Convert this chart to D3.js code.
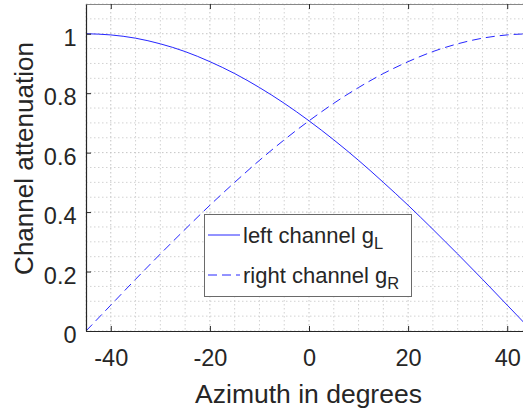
<!DOCTYPE html>
<html><head><meta charset="utf-8">
<script src="https://cdn.jsdelivr.net/npm/d3@7"></script>
<style>body{margin:0;background:#fff;} svg{display:block;} text{font-family:"Liberation Sans",Arial,sans-serif;fill:#262626;}</style>
</head><body>
<svg id="c" width="523" height="412"></svg>
<script>
const azimuth = [-45,-40,-35,-30,-25,-20,-15,-10,-5,0,5,10,15,20,25,30,35,40,45];
const leftGain = [1.000,0.996,0.985,0.966,0.940,0.906,0.866,0.819,0.766,0.707,0.643,0.574,0.500,0.423,0.342,0.259,0.174,0.087,0.000];
const rightGain = [0.000,0.087,0.174,0.259,0.342,0.423,0.500,0.574,0.643,0.707,0.766,0.819,0.866,0.906,0.940,0.966,0.985,0.996,1.000];
const xTicks = [-40,-20,0,20,40];
const yTicks = [0,0.2,0.4,0.6,0.8,1];
const yTickLabels = ["0","0.2","0.4","0.6","0.8","1"];
const seriesNames = ["left channel g", "right channel g"];
const seriesSubs = ["L","R"];

const svg = d3.select("#c");
const L = 86, R = 532, T = 4, B = 331;
const x = d3.scaleLinear().domain([-45,45]).range([L,R]);
const y = d3.scaleLinear().domain([0,1.1]).range([B,T]);

// grid
const g = svg.append("g");
const xMinor = d3.range(-45,46,5);
const yMinor = d3.range(0,1.1001,0.05);
g.selectAll(".vx").data(xMinor).join("line")
  .attr("x1",d=>x(d)).attr("x2",d=>x(d)).attr("y1",T).attr("y2",B)
  .attr("stroke",d=>xTicks.includes(d)?"#c4c4c4":"#d2d2d2").attr("stroke-width",1).attr("stroke-dasharray","1.5,2.5");
g.selectAll(".hy").data(yMinor).join("line")
  .attr("y1",d=>y(d)).attr("y2",d=>y(d)).attr("x1",L).attr("x2",R)
  .attr("stroke",d=>Math.abs(d*5-Math.round(d*5))<1e-6?"#c4c4c4":"#d2d2d2").attr("stroke-width",1).attr("stroke-dasharray","1.5,2.5");

// lines
const pts = (vals)=>azimuth.map((a,i)=>[a,vals[i]]);
const line = d3.line().x(d=>x(d[0])).y(d=>y(d[1])).curve(d3.curveMonotoneX);
svg.append("path").attr("d",line(pts(leftGain))).attr("fill","none").attr("stroke","#0000ff").attr("stroke-width",1).attr("stroke-opacity",0.85);
svg.append("path").attr("d",line(pts(rightGain))).attr("fill","none").attr("stroke","#0000ff").attr("stroke-width",1).attr("stroke-opacity",0.85).attr("stroke-dasharray","9,5");

// axes
const xAxis = svg.append("g").attr("transform",`translate(0,${B})`)
  .call(d3.axisBottom(x).tickValues(xTicks).tickSizeInner(-5).tickSizeOuter(0).tickFormat(d=>d<0?"-"+Math.abs(d):String(d)));
const xAxisTop = svg.append("g").attr("transform",`translate(0,${T})`)
  .call(d3.axisTop(x).tickValues(xTicks).tickSizeInner(-5).tickSizeOuter(0).tickFormat(""));
const yAxis = svg.append("g").attr("transform",`translate(${L},0)`)
  .call(d3.axisLeft(y).tickValues(yTicks).tickSizeInner(-5).tickSizeOuter(0).tickFormat((d,i)=>yTickLabels[i]));
[xAxis,xAxisTop,yAxis].forEach(a=>{
  a.select(".domain").attr("stroke","#262626").attr("stroke-width",1.2);
  a.selectAll(".tick line").attr("stroke","#262626");
  a.selectAll(".tick text").style("font-size","23.5px").attr("fill","#262626");
});
xAxis.selectAll(".tick text").attr("y",34.7).attr("dy",0);
xAxisTop.select(".domain").attr("stroke","#888");
yAxis.selectAll(".tick text").attr("x",-9.5).attr("dy",0).attr("y",11.7);

// axis labels
svg.append("text").attr("x",308.5).attr("y",403).attr("text-anchor","middle").style("font-size","26.5px").text("Azimuth in degrees");
svg.append("text").attr("transform","translate(33,158.5) rotate(-90)").attr("text-anchor","middle").style("font-size","26px").text("Channel attenuation");

// legend
const lg = svg.append("g");
lg.append("rect").attr("x",204.5).attr("y",214.5).attr("width",207).attr("height",82).attr("fill","#fff").attr("stroke","#6a6a6a").attr("stroke-width",1);
const rows = [235, 275];
rows.forEach((ry,i)=>{
  lg.append("line").attr("x1",208).attr("x2",240).attr("y1",ry).attr("y2",ry)
    .attr("stroke","#0000ff").attr("stroke-width",1).attr("stroke-opacity",0.85)
    .attr("stroke-dasharray", i===1?"9,5":null);
  const t = lg.append("text").attr("x",243).attr("y",ry+8).style("font-size","22px");
  t.append("tspan").text(seriesNames[i]);
  t.append("tspan").attr("dy",6).style("font-size","16.5px").text(seriesSubs[i]);
});
</script>
</body></html>
